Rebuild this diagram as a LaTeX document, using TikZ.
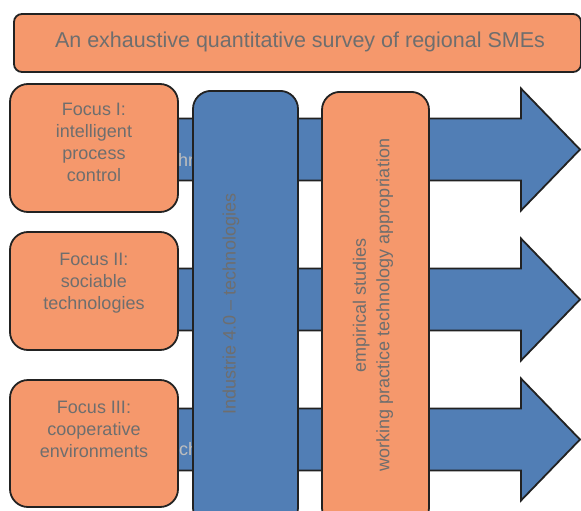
\documentclass[tikz,border=0pt]{standalone}
\usepackage{fontspec}
\setmainfont{Liberation Sans}
\usetikzlibrary{positioning}
\definecolor{boxorange}{HTML}{F5986C}
\definecolor{boxblue}{HTML}{517EB5}
\definecolor{textgray}{HTML}{6E6E6E}
\definecolor{edgegray}{HTML}{222222}

\begin{document}
\begin{tikzpicture}[
    x=1pt, y=-1pt,
    box/.style={draw=edgegray, line width=1.8pt, fill=boxorange, rounded corners=18pt, inner sep=0pt},
    titlebox/.style={box, rounded corners=8pt, minimum width=567pt, minimum height=58pt},
    focusbox/.style={box, minimum width=168pt},
    techbox/.style={box, fill=boxblue, minimum width=105pt, minimum height=435pt},
    studybox/.style={box, minimum width=107pt, minimum height=434pt},
    boxtext/.style={text=textgray, font=\fontsize{18}{22}\selectfont, align=center, inner sep=0pt},
    hidtext/.style={boxtext, text=textgray!45!white},
    arr/.style={draw=edgegray, line width=1.8pt, fill=boxblue, line join=miter}
]
\useasboundingbox (0,0) rectangle (581,511);
\clip (0,0) rectangle (581,511);

% Arrows behind the boxes
\foreach \y in {149.5, 299.5, 439.5} {
  \draw[arr] (170,\y-31) -- (521,\y-31) -- (521,\y-61) -- (580,\y)
    -- (521,\y+61) -- (521,\y+31) -- (170,\y+31) -- cycle;
}

% Texts hidden by the boxes
\node[hidtext, anchor=west] (hidI) at (178,160) {hr};
\node[hidtext, anchor=west] (hidIII) at (179,449) {ch};

% Focus boxes
\node[focusbox, minimum height=128pt] (focusI) at (94,148) {};
\node[boxtext, below=20pt of focusI.north] (focusItext) {Focus I:\\intelligent\\process\\control};

\node[focusbox, minimum height=118pt] (focusII) at (94,291) {};
\node[boxtext, below=22pt of focusII.north] (focusIItext) {Focus II:\\sociable\\technologies};

\node[focusbox, minimum height=127pt] (focusIII) at (94,443.5) {};
\node[boxtext, below=22pt of focusIII.north] (focusIIItext) {Focus III:\\cooperative\\environments};

% Columns
\node[techbox, anchor=north] (tech) at (245.5,90) {};
\node[boxtext, rotate=90] (techtext) at (231,304) {Industrie 4.0 -- technologies};

\node[studybox, anchor=north] (study) at (375.5,91) {};
\node[boxtext, rotate=90, font=\fontsize{18}{23.5}\selectfont] (studytext) at (373,305) {empirical studies\\working practice technology appropriation};

% Title
\node[titlebox] (survey) at (297.5,43) {};
\node[boxtext, font=\fontsize{21.5}{24}\selectfont] (surveytext) at (300,42) {An exhaustive quantitative survey of regional SMEs};

\end{tikzpicture}
\end{document}
